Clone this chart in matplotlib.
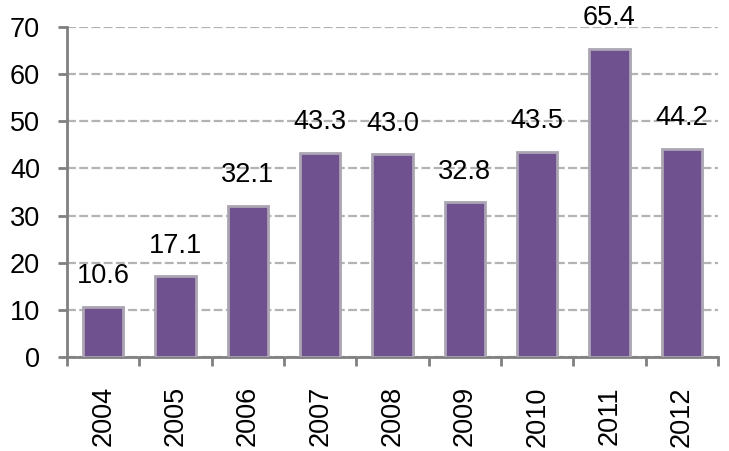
import numpy as np
from matplotlib import pyplot as plt
from matplotlib.ticker import FixedLocator, NullFormatter

years = ["2004", "2005", "2006", "2007", "2008", "2009", "2010", "2011", "2012"]
values = [10.6, 17.1, 32.1, 43.3, 43.0, 32.8, 43.5, 65.4, 44.2]
y_ticks = [0, 10, 20, 30, 40, 50, 60, 70]

plt.rcParams["font.family"] = ["Liberation Sans", "DejaVu Sans"]

fig = plt.figure(figsize=(7.29, 4.51), dpi=100)
ax = fig.add_axes([67 / 729, 1 - 357 / 451, 651 / 729, 330 / 451])

x = np.arange(len(years))
bars = ax.bar(x, values, width=0.56, color="#6f518f",
              edgecolor="#aba5b3", linewidth=2, zorder=3)

for xi, v in zip(x, values):
    ax.annotate(f"{v:.1f}", (xi, v), xytext=(0, 22), textcoords="offset points",
                ha="center", va="center", fontsize=19.5, color="black",
                annotation_clip=False)

ax.set_xlim(-0.5, len(years) - 0.5)
ax.set_ylim(0, 70)
ax.set_yticks(y_ticks)
ax.yaxis.grid(True, linestyle=(0, (4, 1.5)), color="#b3b3b3", linewidth=1.6,
              zorder=0)

# category labels centred, tick marks on category boundaries
ax.set_xticks(x)
ax.set_xticklabels(years, rotation=90, fontsize=19.5)
ax.tick_params(axis="x", which="major", length=0, pad=21)
ax.xaxis.set_minor_locator(FixedLocator(np.arange(-0.5, len(years), 1)))
ax.xaxis.set_minor_formatter(NullFormatter())
ax.tick_params(axis="x", which="minor", direction="out", length=6.5,
               width=2, color="#808080")
ax.tick_params(axis="y", direction="out", length=6.5, width=2,
               color="#808080", labelsize=19.5, pad=13)

for side in ["top", "right"]:
    ax.spines[side].set_visible(False)
for side in ["left", "bottom"]:
    ax.spines[side].set_color("#808080")
    ax.spines[side].set_linewidth(2)

fig.savefig("out.png", dpi=100)
